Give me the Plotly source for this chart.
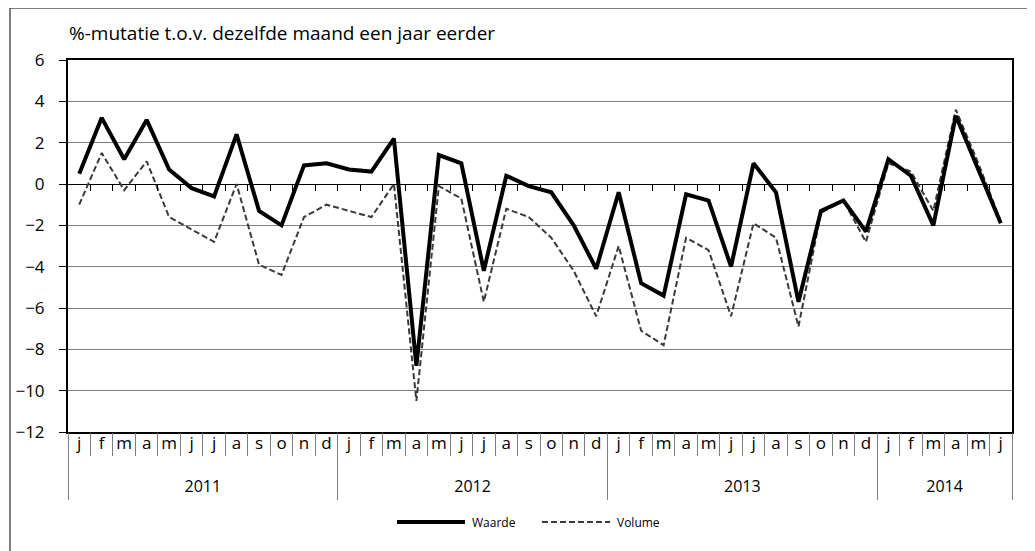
import plotly.graph_objects as go

months = ["j", "f", "m", "a", "m", "j", "j", "a", "s", "o", "n", "d"]
years = ["2011", "2012", "2013", "2014"]
months_per_year = [12, 12, 12, 6]

waarde = [0.5, 3.2, 1.2, 3.1, 0.7, -0.2, -0.6, 2.4, -1.3, -2.0, 0.9, 1.0,
          0.7, 0.6, 2.2, -8.8, 1.4, 1.0, -4.2, 0.4, -0.1, -0.4, -2.0, -4.1,
          -0.4, -4.8, -5.4, -0.5, -0.8, -4.0, 1.0, -0.4, -5.7, -1.3, -0.8, -2.3,
          1.2, 0.4, -2.0, 3.3, 0.7, -1.9]
volume = [-1.0, 1.5, -0.3, 1.1, -1.6, -2.2, -2.8, 0.0, -3.9, -4.4, -1.6, -1.0,
          -1.3, -1.6, 0.0, -10.5, -0.1, -0.7, -5.7, -1.2, -1.6, -2.6, -4.2, -6.4,
          -3.0, -7.1, -7.8, -2.6, -3.2, -6.4, -1.9, -2.6, -6.9, -1.4, -0.8, -2.8,
          1.0, 0.6, -1.3, 3.6, 1.0, -1.8]

y_title = "%-mutatie t.o.v. dezelfde maand een jaar eerder"
series_names = ["Waarde", "Volume"]

FONT = "Open Sans"
n = len(waarde)
x = list(range(n))
month_labels = [months[i % 12] for i in range(n)]

year_centres, year_bounds = [], [-0.5]
start = 0
for cnt in months_per_year:
    year_centres.append(start + (cnt - 1) / 2)
    start += cnt
    year_bounds.append(start - 0.5)

xr = [-0.5, n - 0.5]

fig = go.Figure()
fig.add_trace(go.Scatter(x=x, y=volume, mode="lines", name=series_names[1],
                         line=dict(color="#3a3a3a", width=2, dash="6px,3px")))
fig.add_trace(go.Scatter(x=x, y=waarde, mode="lines", name=series_names[0],
                         line=dict(color="black", width=4)))
# invisible helper traces so the overlay axes are drawn
for ax in ["x2", "x3", "x4", "x5"]:
    fig.add_trace(go.Scatter(x=x, y=[None] * n, xaxis=ax, yaxis="y", mode="lines",
                             showlegend=False, hoverinfo="skip"))

# page body has an 8px margin: the figure is shifted by 8px
OFF = 8
fig.update_layout(
    width=1035 - OFF, height=551 - OFF,
    margin=dict(l=68 - OFF, r=23, t=60 - OFF, b=119, autoexpand=False),
    paper_bgcolor="white", plot_bgcolor="white",
    showlegend=False,
    font=dict(family=FONT, color="black"),
    xaxis=dict(range=xr, tickvals=x, ticktext=month_labels, ticks="",
               tickfont=dict(size=17, family=FONT), showgrid=False, zeroline=False,
               showline=True, linecolor="black", linewidth=2, mirror=True,
               ticklabelstandoff=-5, automargin=False),
    xaxis2=dict(overlaying="x", anchor="y", range=xr,
                tickvals=[i - 0.5 for i in range(n + 1)], ticks="outside",
                ticklen=23, tickcolor="#7f7f7f", tickwidth=1, automargin=False,
                showticklabels=False, showgrid=False, zeroline=False, showline=False),
    xaxis3=dict(overlaying="x", anchor="y", range=xr,
                tickvals=year_centres, ticktext=years, ticks="",
                tickfont=dict(size=16, family=FONT), ticklabelstandoff=43,
                automargin=False,
                showgrid=False, zeroline=False, showline=False),
    xaxis4=dict(overlaying="x", anchor="y", range=xr,
                tickvals=year_bounds, ticks="outside", ticklen=67,
                tickcolor="#7f7f7f", tickwidth=1, automargin=False,
                showticklabels=False, showgrid=False, zeroline=False, showline=False),
    xaxis5=dict(overlaying="x", anchor="free", position=12 / 18, range=xr,
                tickvals=[i + 0.5 for i in range(n - 1)], ticks="outside",
                ticklen=6, tickcolor="black", tickwidth=1, automargin=False,
                showticklabels=False, showgrid=False, zeroline=False, showline=False),
    yaxis=dict(range=[-12, 6], dtick=2, tick0=0, ticks="outside", ticklen=7,
               tickcolor="black", tickfont=dict(size=17, family=FONT),
               ticklabelstandoff=11, automargin=False,
               showgrid=True, gridcolor="#808080", gridwidth=1,
               zeroline=True, zerolinecolor="black", zerolinewidth=1,
               showline=True, linecolor="black", linewidth=2, mirror=True),
)

W = 944.0
H = 372.0
def px2x(p):
    return (p - 68) / W
def py2y(p):
    return (432 - p) / H

fig.add_annotation(text=y_title, xref="paper", yref="paper", x=px2x(67), y=py2y(33),
                   xanchor="left", yanchor="middle", showarrow=False,
                   font=dict(size=19, family=FONT))

ly = py2y(522)
fig.add_shape(type="line", xref="paper", yref="paper", x0=px2x(397), x1=px2x(465),
              y0=ly, y1=ly, line=dict(color="black", width=4))
fig.add_annotation(text=series_names[0], xref="paper", yref="paper", x=px2x(470), y=ly,
                   xanchor="left", yanchor="middle", showarrow=False,
                   font=dict(size=12, family=FONT))
fig.add_shape(type="line", xref="paper", yref="paper", x0=px2x(542), x1=px2x(610),
              y0=ly, y1=ly, line=dict(color="#3a3a3a", width=2, dash="6px,3px"))
fig.add_annotation(text=series_names[1], xref="paper", yref="paper", x=px2x(615), y=ly,
                   xanchor="left", yanchor="middle", showarrow=False,
                   font=dict(size=12, family=FONT))

fig.add_shape(type="rect", xref="paper", yref="paper", x0=px2x(10), x1=px2x(1029),
              y0=py2y(600), y1=py2y(8), line=dict(color="black", width=1),
              fillcolor="rgba(0,0,0,0)", layer="below")

fig.write_html("out.html")
